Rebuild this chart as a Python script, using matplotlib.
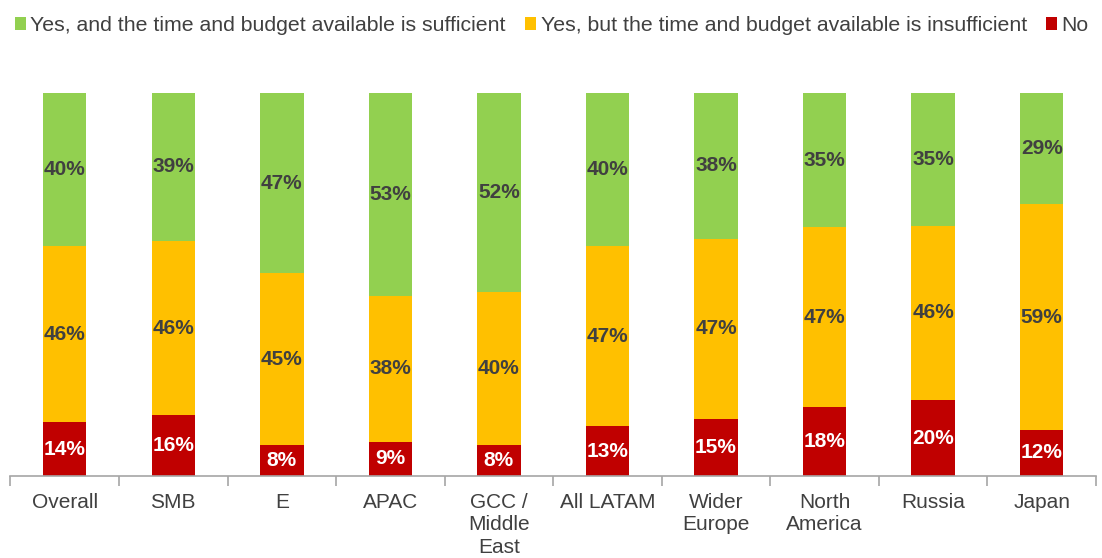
import matplotlib.pyplot as plt
import numpy as np

plt.rcParams['font.family'] = ['Liberation Sans', 'DejaVu Sans']

categories = ["Overall", "SMB", "E", "APAC", "GCC /\nMiddle\nEast", "All LATAM",
              "Wider\nEurope", "North\nAmerica", "Russia", "Japan"]
no_vals = [14, 16, 8, 9, 8, 13, 15, 18, 20, 12]
insufficient_vals = [46, 46, 45, 38, 40, 47, 47, 47, 46, 59]
sufficient_vals = [40, 39, 47, 53, 52, 40, 38, 35, 35, 29]

series_names = ["Yes, and the time and budget available is sufficient",
                "Yes, but the time and budget available is insufficient",
                "No"]
colors = ["#92D050", "#FFC000", "#C00000"]

no = np.array(no_vals, dtype=float)
ins = np.array(insufficient_vals, dtype=float)
suf = np.array(sufficient_vals, dtype=float)
total = no + ins + suf
# 100% stacked: normalise so every bar fills the full height
no_p = no / total * 100
ins_p = ins / total * 100
suf_p = suf / total * 100

fig = plt.figure(figsize=(11.02, 5.58), dpi=100)
ax = fig.add_axes([0.0095, 0.147, 0.985, 0.6863])

x = np.arange(len(categories))
w = 0.4
b_no = ax.bar(x, no_p, w, color=colors[2], label=series_names[2])
b_ins = ax.bar(x, ins_p, w, bottom=no_p, color=colors[1], label=series_names[1])
b_suf = ax.bar(x, suf_p, w, bottom=no_p + ins_p, color=colors[0], label=series_names[0])

fs = 15
for i in range(len(x)):
    ax.text(x[i], no_p[i] / 2, f"{no_vals[i]}%", ha="center", va="center",
            color="white", fontsize=fs, fontweight="bold")
    ax.text(x[i], no_p[i] + ins_p[i] / 2, f"{insufficient_vals[i]}%", ha="center",
            va="center", color="#404040", fontsize=fs, fontweight="bold")
    ax.text(x[i], no_p[i] + ins_p[i] + suf_p[i] / 2, f"{sufficient_vals[i]}%",
            ha="center", va="center", color="#404040", fontsize=fs, fontweight="bold")

ax.set_xlim(-0.5, len(x) - 0.5)
ax.set_ylim(0, 100)
for s in ["top", "right", "left"]:
    ax.spines[s].set_visible(False)
ax.spines["bottom"].set_color("#A6A6A6")
ax.spines["bottom"].set_linewidth(1.2)
ax.set_yticks([])

# category dividers as tick marks
ax.set_xticks(np.arange(-0.5, len(x), 1.0))
ax.set_xticklabels([])
ax.tick_params(axis="x", which="major", length=7, color="#A6A6A6", width=1.2)
ax.set_xticks(x, minor=True)
ax.set_xticklabels(categories, minor=True, fontsize=fs, color="#404040",
                   linespacing=1.25, va="top")
ax.tick_params(axis="x", which="minor", length=0, pad=12)

handles = [b_suf, b_ins, b_no]
fig.legend(handles, series_names, loc="upper left", bbox_to_anchor=(0.0, 0.998),
           ncol=3, frameon=False, fontsize=15.3, labelcolor="#404040",
           handlelength=0.5, handleheight=0.5, handletextpad=0.22,
           columnspacing=0.92, borderaxespad=0.3)

fig.savefig("out.png", dpi=100)
